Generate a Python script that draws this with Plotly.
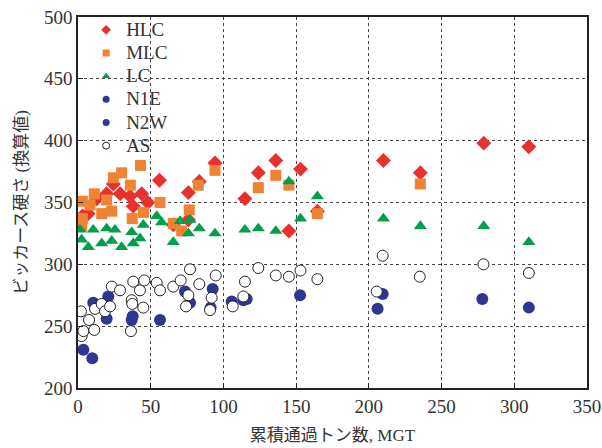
import plotly.graph_objects as go

hlc_x = [3, 7, 13, 19.7, 24.3, 29, 35.8, 38, 43.8, 48, 56, 65.5, 75.9, 75.9, 83.4, 94.2, 114.8, 124, 136, 145, 153, 164.6, 210, 235.4, 279, 310]
hlc_y = [339, 341, 353, 357, 365, 357, 355, 347, 357, 350, 368, 332, 358, 336, 367, 382, 353, 374, 384, 327, 377, 343, 384, 374, 398, 395]

mlc_x = [2.5, 3, 3, 8.3, 11.2, 16.3, 19.7, 23.2, 24.3, 30, 36, 37.3, 43, 45, 56.4, 65.5, 71.3, 76.5, 82.7, 94.2, 124, 136, 145, 164.6, 235.4]
mlc_y = [331, 337, 351, 348, 357, 341, 352, 343, 370, 374, 364, 337, 380, 342, 350, 333, 327, 344, 364, 376, 362, 372, 364, 341, 365]

lc_x = [1.4, 2.5, 7.1, 10.5, 16.3, 19.7, 23.2, 25.4, 30, 36.9, 38, 42.6, 44.9, 54.1, 57.5, 65.5, 70.2, 77, 83.4, 75.9, 94.2, 114.8, 124, 136, 145, 153, 164.6, 210, 235.4, 279, 310]
lc_y = [328, 320, 314, 328, 317, 329, 319, 328, 314, 326, 317, 321, 332, 339, 334, 318, 335, 336, 329, 325, 325, 328, 329, 327, 367, 337, 355, 337, 331, 331, 318]

n1e_x = [3.7, 9.8, 10.5, 20.8, 36.9, 56.4, 77, 92.6, 113.7, 152.7, 209.5, 278]
n1e_y = [231, 224, 269, 274, 255, 255, 269, 280, 271, 275, 276, 272]

n2w_x = [19.7, 37.6, 73.6, 91.2, 105.7, 116, 206, 310]
n2w_y = [256, 258, 278, 265, 270, 272, 264, 265]

as_x = [2, 2.5, 3.7, 7.6, 11.2, 11.7, 16.3, 18.6, 22, 23.2, 28.9, 36.4, 36.9, 37.3, 38, 42.6, 44.9, 45.6, 54.1, 56.4, 65.5, 70.6, 74.3, 75.9, 77, 83.4, 90.8, 91.9, 94.7, 106.4, 113.7, 114.8, 124, 136, 145, 153, 164.6, 205.4, 209.5, 235, 278.8, 310]
as_y = [262, 242, 246, 255, 247, 264, 268, 262, 266, 282, 279, 246, 271, 268, 286, 279, 265, 287, 285, 279, 282, 287, 266, 275, 296, 284, 263, 273, 291, 266, 274, 286, 297, 291, 290, 295, 288, 278, 307, 290, 300, 293]

x_ticks = [0, 50, 100, 150, 200, 250, 300, 350]
y_ticks = [200, 250, 300, 350, 400, 450, 500]

RED = "#e8312f"
ORANGE = "#f08233"
GREEN = "#00a04b"
BLUE = "#2e3592"

series = [
    ("HLC", hlc_x, hlc_y, dict(symbol="diamond", size=11.5, color=RED), dict(symbol="diamond", size=7.5, color=RED)),
    ("MLC", mlc_x, mlc_y, dict(symbol="square", size=11, color=ORANGE), dict(symbol="square", size=7, color=ORANGE)),
    ("LC", lc_x, lc_y, dict(symbol="triangle-up", size=11.5, color=GREEN), dict(symbol="triangle-up", size=7, color=GREEN)),
    ("N1E", n1e_x, n1e_y, dict(symbol="circle", size=12, color=BLUE), dict(symbol="circle", size=7, color=BLUE)),
    ("N2W", n2w_x, n2w_y, dict(symbol="circle", size=12, color=BLUE), dict(symbol="circle", size=7, color=BLUE)),
    ("AS", as_x, as_y, dict(symbol="circle", size=11, color="white", line=dict(color="#222", width=1)),
     dict(symbol="circle", size=7, color="white", line=dict(color="#222", width=1))),
]

fig = go.Figure()
for name, xs, ys, mk, _ in series:
    fig.add_trace(go.Scatter(x=xs, y=ys, mode="markers", name=name, marker=mk,
                             showlegend=False, legendgroup=name))
for name, _, _, _, lmk in series:
    fig.add_trace(go.Scatter(x=[None], y=[None], mode="markers",
                             name="<span style='font-size:19px'>" + name + "</span>", marker=lmk,
                             showlegend=True, legendgroup=name))

font_family = "Liberation Serif, Noto Sans CJK JP, serif"
axis_common = dict(
    showline=True, linecolor="#222", linewidth=1.5, mirror=True,
    ticks="inside", ticklen=5, tickcolor="#222",
    showgrid=True, gridcolor="#444", griddash="dot", gridwidth=1.2,
    zeroline=False, automargin=False,
    tickfont=dict(family=font_family, size=19, color="#333"),
)

fig.update_xaxes(range=[0, 350], tickvals=x_ticks,
                 title=dict(text="累積通過トン数, MGT", font=dict(family=font_family, size=17, color="#333"), standoff=14),
                 **axis_common)
fig.update_yaxes(range=[200, 500], tickvals=y_ticks,
                 title=dict(text="ビッカース硬さ (換算値)", font=dict(family=font_family, size=17, color="#333"), standoff=12),
                 **axis_common)

fig.update_layout(
    width=602, height=448,
    margin=dict(l=78, r=15, t=17, b=60),
    plot_bgcolor="white", paper_bgcolor="white",
    font=dict(family=font_family, color="#333"),
    legend=dict(x=0.016, y=1.01, xanchor="left", yanchor="top",
                bgcolor="rgba(0,0,0,0)", font=dict(family=font_family, size=15.5, color="#333"),
                tracegroupgap=0),
)

fig.write_html("out.html", config={"displayModeBar": False},
               post_script="document.body.style.margin='0';document.body.style.overflow='hidden';")
